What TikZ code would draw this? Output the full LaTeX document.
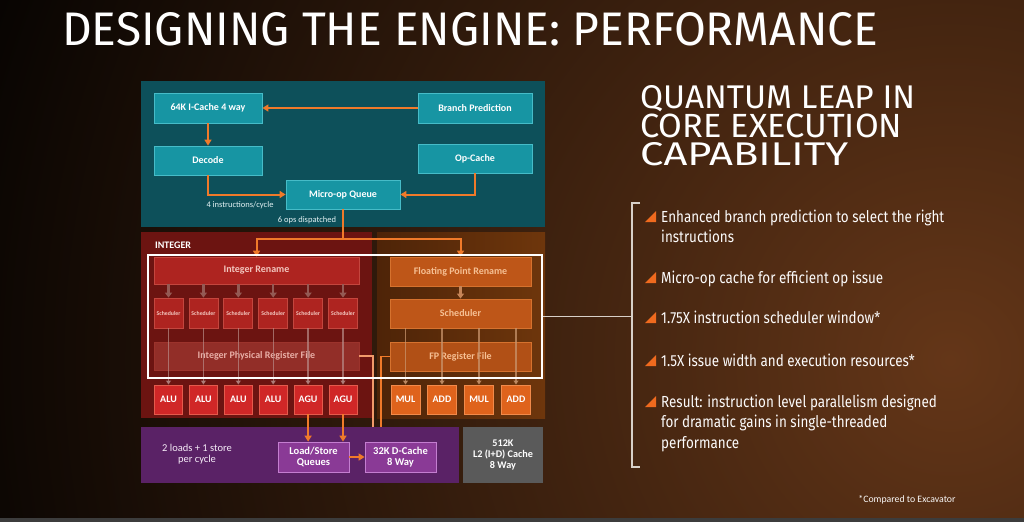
\documentclass[tikz,border=0pt]{standalone}
\usepackage{fontspec}
\setmainfont{Carlito}
\newfontfamily\klav[FakeStretch=0.84]{Fira Sans}
\usetikzlibrary{arrows.meta}
\definecolor{bgGlow}{HTML}{643618}
\definecolor{barG}{HTML}{3C3C3C}
\definecolor{tealP}{HTML}{0D505A}
\definecolor{tealF}{HTML}{1795A3}
\definecolor{tealB}{HTML}{46BCC8}
\definecolor{intP}{HTML}{6C1411}
\definecolor{intF}{HTML}{AE2420}
\definecolor{intB}{HTML}{C4463E}
\definecolor{prfF}{HTML}{922E28}
\definecolor{aluF}{HTML}{D02727}
\definecolor{aluB}{HTML}{E55A4C}
\definecolor{fpPL}{HTML}{4E2408}
\definecolor{fpPR}{HTML}{6E360C}
\definecolor{fpF}{HTML}{BE5618}
\definecolor{fpB}{HTML}{D6722E}
\definecolor{fpT}{HTML}{F6C094}
\definecolor{mulF}{HTML}{DF631C}
\definecolor{mulB}{HTML}{F28A4A}
\definecolor{purP}{HTML}{5A2266}
\definecolor{purF}{HTML}{8A3A96}
\definecolor{purB}{HTML}{C47ED0}
\definecolor{l2F}{HTML}{5A5A5A}
\definecolor{orA}{HTML}{F07A2A}
\definecolor{orL}{HTML}{F29A6A}
\definecolor{grA}{HTML}{945A54}
\definecolor{grL}{HTML}{B88C88}
\definecolor{grF}{HTML}{C8946C}
\definecolor{pinkT}{HTML}{F2C6BE}
\definecolor{brk}{HTML}{D8D0C8}
\definecolor{bulO}{HTML}{F06A1E}
\begin{document}
\begin{tikzpicture}[x=1pt,y=-1pt,
  tbox/.style={draw=tealB, fill=tealF, line width=0.8pt, text=white, inner sep=0,
    font=\bfseries\fontsize{10}{11}\selectfont},
  rbox/.style={draw=intB, fill=intF, line width=0.8pt, text=pinkT, inner sep=0,
    font=\bfseries\fontsize{10}{11}\selectfont},
  sbox/.style={draw=intB, fill=intF, line width=0.8pt, text=pinkT, inner sep=0,
    minimum width=29pt, minimum height=30pt, font=\bfseries\fontsize{5.8}{6}\selectfont},
  abox/.style={draw=aluB, fill=aluF, line width=0.8pt, text=white, inner sep=0,
    minimum width=28pt, minimum height=29pt, font=\bfseries\fontsize{10}{11}\selectfont},
  fbox/.style={draw=fpB, fill=fpF, line width=0.8pt, text=fpT, inner sep=0,
    minimum width=141pt, minimum height=29pt, font=\bfseries\fontsize{10}{11}\selectfont},
  mbox/.style={draw=mulB, fill=mulF, line width=0.8pt, text=white, inner sep=0,
    minimum width=29pt, minimum height=29pt, font=\bfseries\fontsize{10}{11}\selectfont},
  pbox/.style={draw=purB, fill=purF, line width=0.8pt, text=white, inner sep=0, align=center,
    minimum width=71pt, minimum height=30pt, font=\bfseries\fontsize{10.5}{11}\selectfont},
  lbl/.style={text=white!88!tealF, inner sep=0, font=\fontsize{8.5}{9}\selectfont},
  oarr/.style={draw=orA, line width=2pt, -{Triangle[length=6pt,width=7pt]}},
  oline/.style={draw=orA, line width=2pt},
  garr/.style={draw=grA, line width=2.5pt, -{Triangle[length=5pt,width=7pt]}},
  glin/.style={draw=grL, line width=1.3pt, opacity=0.7, -{Triangle[length=4pt,width=5pt]}},
  glinF/.style={draw=grF, line width=1.3pt, opacity=0.75, -{Triangle[length=4pt,width=5pt]}},
  btxt/.style={anchor=base west, inner sep=0, text=white!92!brk, font=\klav\fontsize{16}{20}\selectfont},
  htxt/.style={anchor=north west, inner sep=0, text=white},
  bul/.style={fill=bulO},
  brkline/.style={draw=brk, line width=1.4pt}
]
\useasboundingbox (0,0) rectangle (1024,522);
% background
\fill[black] (0,0) rectangle (1024,522);
\begin{scope}
  \clip (0,0) rectangle (1024,518);
  \shade[inner color=bgGlow, outer color=black] (950,360) circle (1100);
\end{scope}
\fill[barG] (0,518) rectangle (1024,522);

% title
\node[htxt] (title) at (62,12)
  {\raisebox{0pt}[\height][0pt]{\resizebox{816pt}{33pt}{\klav\fontsize{40}{40}\selectfont DESIGNING THE ENGINE: PERFORMANCE}}};
\node[htxt] (h1) at (640,85)
  {\raisebox{0pt}[\height][0pt]{\resizebox{275pt}{23pt}{\klav\fontsize{30}{30}\selectfont QUANTUM LEAP IN}}};
\node[htxt] (h2) at (640,113.5)
  {\raisebox{0pt}[\height][0pt]{\resizebox{262pt}{23.5pt}{\klav\fontsize{30}{30}\selectfont CORE EXECUTION}}};
\node[htxt] (h3) at (640,142.5)
  {\raisebox{0pt}[\height][0pt]{\resizebox{208pt}{23pt}{\klav\fontsize{30}{30}\selectfont CAPABILITY}}};

% panels
\fill[tealP] (141,81) rectangle (545,227);
\fill[intP] (141,232) rectangle (372,418);
\shade[left color=fpPL, right color=fpPR] (377,232) rectangle (545,418);
\fill[purP] (141,427) rectangle (459,483);

% front end
\node[tbox, minimum width=108pt, minimum height=30pt] (icache) at (208,108) {64K I-Cache 4 way};
\node[tbox, minimum width=114pt, minimum height=30pt] (bp) at (475,108) {Branch Prediction};
\node[tbox, minimum width=108pt, minimum height=29pt] (decode) at (208,160.5) {Decode};
\node[tbox, minimum width=114pt, minimum height=29pt] (opcache) at (475,158.5) {Op-Cache};
\node[tbox, minimum width=114pt, minimum height=29pt] (queue) at (343,194.5) {Micro-op Queue};
\draw[oarr] (bp.west) -- (icache.east);
\draw[oarr] (icache.south) -- (decode.north);
\draw[oarr] (decode.south) |- (queue.west);
\draw[oarr] (opcache.south) |- (queue.east);
\node[lbl] (l4) at (240,205) {4 instructions/cycle};
\node[lbl] (l6) at (307,220) {6 ops dispatched};

% integer
\node[anchor=west, inner sep=0, text=white, font=\bfseries\fontsize{10}{11}\selectfont] (intlbl) at (155,245) {INTEGER};
\node[rbox, minimum width=205pt, minimum height=27pt] (intren) at (256.5,270.5) {Integer Rename};
\node[rbox, fill=prfF, draw=prfF!80!intB, text=pinkT!85!intF, minimum width=205pt, minimum height=28pt] (intprf) at (256.5,356) {Integer Physical Register File};
\foreach \i/\x/\t in {1/168.5/ALU,2/203.4/ALU,3/238.3/ALU,4/273.2/ALU,5/308.1/AGU,6/343/AGU}{
  \node[sbox] (s\i) at (\x,313) {Scheduler};
  \node[abox] (a\i) at (\x,399.5) {\t};
  \draw[garr] (s\i.north |- intren.south) -- (s\i.north);
  \draw[glin] (s\i.south) -- (a\i.north);
}

% floating point
\node[fbox] (fpren) at (460.5,271.5) {Floating Point Rename};
\node[fbox] (fpsch) at (460.5,313.5) {Scheduler};
\node[fbox, fill=fpF!88!fpPL] (fprf) at (460.5,356.5) {FP Register File};
\draw[garr, draw=grF!75!fpF] (fpren.south) -- (fpsch.north);
\foreach \i/\x/\t in {1/405.5/MUL,2/442/ADD,3/479/MUL,4/516/ADD}{
  \node[mbox] (f\i) at (\x,399.5) {\t};
  \draw[glinF] (f\i.north |- fpsch.south) -- (f\i.north);
}

% dispatch from queue
\coordinate (split) at (343,239);
\draw[oline] (queue.south) -- (split);
\draw[oarr] (split) -| (intren.north);
\draw[oarr] (split) -| (fpren.north);

% memory
\node[align=center, inner sep=0, text=white!85!purB, font=\fontsize{10.5}{11}\selectfont] (mlbl) at (197,454) {2 loads + 1 store\\per cycle};
\node[pbox] (lsq) at (313.5,457) {Load/Store\\Queues};
\node[pbox] (dc) at (400.5,457) {32K D-Cache\\8 Way};
\draw[oarr] (lsq.east) -- (dc.west);
\node[fill=l2F, inner sep=0, minimum width=80pt, minimum height=56pt, align=center, text=white,
  font=\bfseries\fontsize{10.2}{11}\selectfont] (l2) at (503,455) {512K\\L2 (I+D) Cache\\8 Way};
\draw[oarr] (a5.south) -- (a5.south |- lsq.north);
\draw[oarr] (a6.south) -- (a6.south |- lsq.north);
\coordinate (m1) at (373,427);
\coordinate (m2) at (381,427);
\draw[oline, draw=orL, line width=1.6pt] (intprf.east) -| (m1);
\draw[oline, line width=1.6pt] (fprf.west) -| (m2);

% white highlight box and bracket
\node[draw=white, line width=2pt, minimum width=394pt, minimum height=123pt, inner sep=0] (wbox) at (345,316.5) {};
\coordinate (brk) at (632,316.5);
\coordinate (bt) at (640,203);
\coordinate (bb) at (640,467);
\draw[brkline] (wbox.east) -- (brk);
\draw[brkline] (bt) -- ++(-8,0) |- (bb);

% bullets
\foreach \yb in {222,283,323,366,407}{
  \fill[bul] (645,\yb) -- ++(11,0) -- ++(0,-11) -- cycle;
}
\node[btxt] (b1) at (661,222) {Enhanced branch prediction to select the right};
\node[btxt] (b1b) at (661,242) {instructions};
\node[btxt] (b2) at (661,283) {Micro-op cache for efficient op issue};
\node[btxt] (b3) at (661,323) {1.75X instruction scheduler window*};
\node[btxt] (b4) at (661,366) {1.5X issue width and execution resources*};
\node[btxt] (b5) at (661,407) {Result: instruction level parallelism designed};
\node[btxt] (b5b) at (661,427.5) {for dramatic gains in single-threaded};
\node[btxt] (b5c) at (661,448) {performance};

\node[inner sep=0, text=white!85!brk, font=\fontsize{9.8}{11}\selectfont] (fn) at (907,500) {*Compared to Excavator};
\end{tikzpicture}
\end{document}
